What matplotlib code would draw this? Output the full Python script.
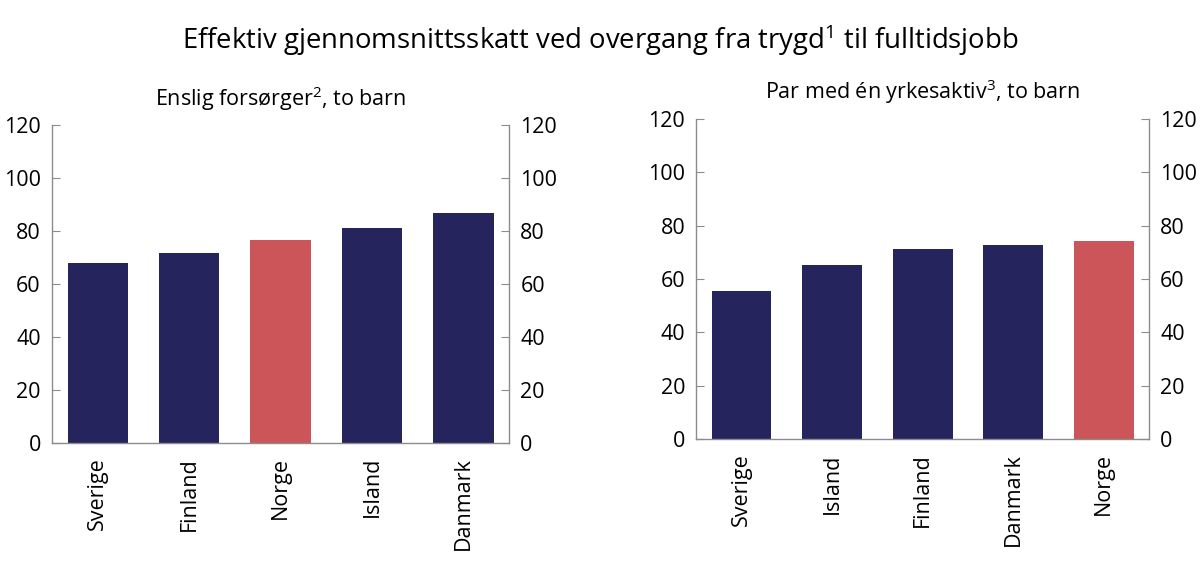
import matplotlib
matplotlib.use("Agg")
import matplotlib.pyplot as plt

NAVY = "#25245c"
RED = "#cc555a"
GRAY = "#8c8c8c"

# Enslig forsørger, to barn
left_countries = ["Sverige", "Finland", "Norge", "Island", "Danmark"]
left_values = [68.0, 71.8, 76.5, 81.0, 86.7]

# Par med én yrkesaktiv, to barn
right_countries = ["Sverige", "Island", "Finland", "Danmark", "Norge"]
right_values = [55.7, 65.3, 71.4, 72.7, 74.4]

y_ticks = [0, 20, 40, 60, 80, 100, 120]

plt.rcParams["font.family"] = ["Open Sans", "DejaVu Sans"]
plt.rcParams["mathtext.fontset"] = "custom"
plt.rcParams["mathtext.rm"] = "Open Sans"
plt.rcParams["mathtext.it"] = "Open Sans"
plt.rcParams["mathtext.default"] = "rm"
FS = 15.5


def draw_panel(ax, countries, values, title):
    colors = [RED if c == "Norge" else NAVY for c in countries]
    ax.bar(range(len(countries)), values, width=0.66, color=colors, zorder=2)
    ax.set_xlim(-0.5, len(countries) - 0.5)
    ax.set_ylim(0, 120)
    ax.set_yticks(y_ticks)
    ax.set_xticks(range(len(countries)))
    ax.set_xticklabels(countries, rotation=90, ha="center", va="top", fontsize=FS)
    ax.tick_params(axis="x", length=0, pad=10)
    ax.tick_params(axis="y", direction="in", length=6, color=GRAY,
                   labelsize=FS, pad=8, left=True, right=True,
                   labelleft=True, labelright=True)
    ax.spines["top"].set_visible(False)
    for side in ("left", "right", "bottom"):
        ax.spines[side].set_color(GRAY)
        ax.spines[side].set_linewidth(1.0)
    ax.set_title(title, fontsize=FS, pad=14)


fig = plt.figure(figsize=(12, 5.66), dpi=100)
ax_left = fig.add_axes([0.0433, 0.2173, 0.381, 0.5618])
ax_right = fig.add_axes([0.5803, 0.2239, 0.3772, 0.566])

draw_panel(ax_left, left_countries, left_values, "Enslig forsørger$^{2}$, to barn")
draw_panel(ax_right, right_countries, right_values, "Par med én yrkesaktiv$^{3}$, to barn")

fig.text(0.5, 0.929, "Effektiv gjennomsnittsskatt ved overgang fra trygd$^{1}$ til fulltidsjobb",
         ha="center", va="center", fontsize=19.8)

fig.savefig("out.png", dpi=100)
